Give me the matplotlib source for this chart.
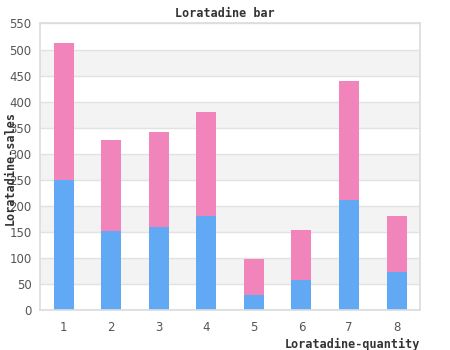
import matplotlib
matplotlib.use("Agg")
import matplotlib.pyplot as plt

# quantities on the x axis and the two stacked sales series
quantity = [1, 2, 3, 4, 5, 6, 7, 8]
sales_low = [250, 152, 160, 181, 29, 58, 212, 74]
sales_high = [262, 175, 182, 200, 70, 96, 227, 107]
y_ticks = list(range(0, 551, 50))

blue = "#62a9f5"
pink = "#f284bc"
frame = "#dcdcdc"

fig = plt.figure(figsize=(4.5, 3.5), dpi=100)
ax = fig.add_axes([0.089, 0.114, 0.845, 0.819])

# alternating grey bands between grid lines
for lo in range(50, 550, 100):
    ax.axhspan(lo, lo + 50, color="#f3f3f3", zorder=0, lw=0)
for y in y_ticks:
    ax.axhline(y, color="#e2e2e2", lw=1, zorder=1)

ax.bar(quantity, sales_low, width=0.42, color=blue, zorder=2)
ax.bar(quantity, sales_high, width=0.42, bottom=sales_low, color=pink, zorder=2)

ax.set_xlim(0.5, 8.5)
ax.set_ylim(0, 550)
ax.set_xticks(quantity)
ax.set_yticks(y_ticks)
ax.tick_params(length=0, labelsize=8.5, labelcolor="#555555")
ax.tick_params(axis="x", pad=8)
ax.tick_params(axis="y", pad=6)
for side in ax.spines.values():
    side.set_color(frame)
    side.set_linewidth(1.2)

title_font = dict(family="DejaVu Sans Mono", weight="bold", fontsize=8.5, color="#333333")
fig.text(0.5, 0.962, "Loratadine bar", ha="center", va="center", **title_font)
fig.text(0.934, 0.017, "Loratadine-quantity", ha="right", va="center", **title_font)
fig.text(0.022, 0.52, "Loratadine-sales", ha="center", va="center", rotation=90,
         **title_font)

fig.savefig("out.png", dpi=100)
